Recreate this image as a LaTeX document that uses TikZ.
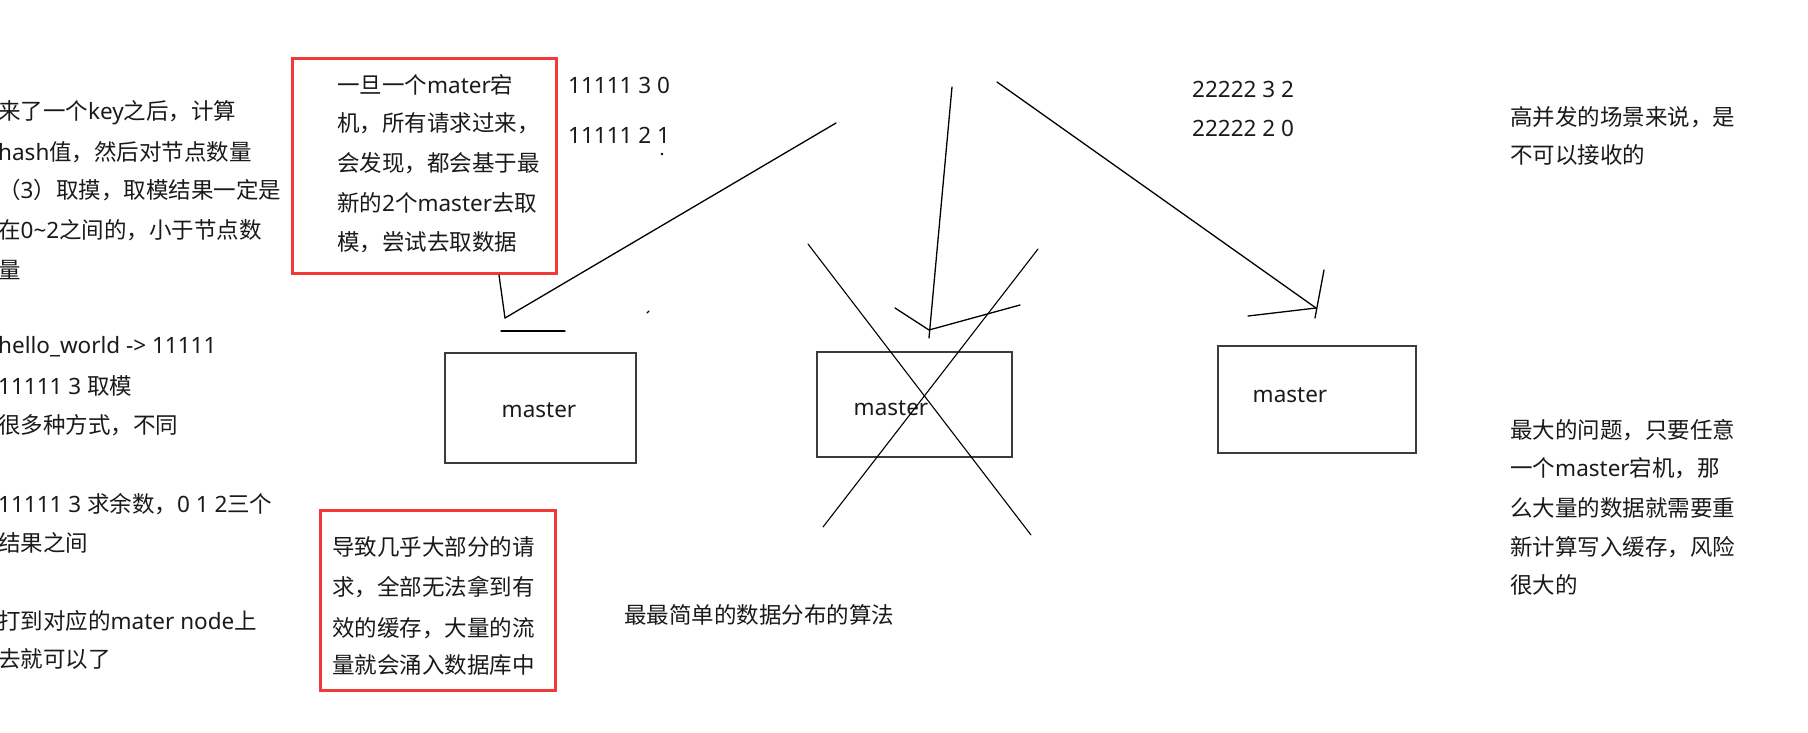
\documentclass[tikz,border=0pt]{standalone}
\usepackage{fontspec}
\setmainfont{Noto Sans}
\newfontfamily\cjkfont{Noto Sans CJK SC}
\newcount\mycnt
\chardef\mycjkcls=100
\def\setcjkrange#1#2{\mycnt=#1\relax
  \loop\XeTeXcharclass\mycnt=\mycjkcls\relax
  \ifnum\mycnt<#2\relax\advance\mycnt by 1\relax\repeat}
\setcjkrange{"4E00}{"9FFF}
\setcjkrange{"3000}{"303F}
\setcjkrange{"FF00}{"FFEF}
\XeTeXinterchartoks 0 100 = {\cjkfont}
\XeTeXinterchartoks 4095 100 = {\cjkfont}
\XeTeXinterchartoks 100 0 = {\rmfamily}
\XeTeXinterchartoks 100 4095 = {\rmfamily}
\XeTeXinterchartokenstate=1
\definecolor{txt}{HTML}{1A1A1A}
\definecolor{redbox}{HTML}{F03A3A}
\definecolor{boxline}{HTML}{3C3C3C}
\tikzset{
  lbl/.style={anchor=west, inner sep=0pt, text=txt, font=\fontsize{22.5}{30}\selectfont},
  redframe/.style={draw=redbox, line width=3pt, inner sep=0pt},
  masterbox/.style={draw=boxline, line width=2pt, inner sep=0pt},
  pen/.style={draw=black, line width=1.3pt, line cap=round},
}
\begin{document}
\begin{tikzpicture}[x=1pt, y=-1pt]
\useasboundingbox[fill=white] (0,0) rectangle (1808,732);

% left notes
\node[lbl] (n1) at (-2,113) {来了一个key之后，计算};
\node[lbl] (n2) at (-2,152) {hash值，然后对节点数量};
\node[lbl] (n3) at (-2,190) {（3）取摸，取模结果一定是};
\node[lbl] (n4) at (-2,230) {在0\textasciitilde 2之间的，小于节点数};
\node[lbl] (n5) at (-2,270) {量};
\node[lbl] (n6) at (-2,347) {hello\_world -> 11111};
\node[lbl] (n7) at (-2,386) {11111 3 取模};
\node[lbl] (n8) at (-2,425) {很多种方式，不同};
\node[lbl] (n9) at (-2,504) {11111 3 求余数，0 1 2三个};
\node[lbl] (n10) at (-2,543) {结果之间};
\node[lbl] (n11) at (-2,621) {打到对应的mater node上};
\node[lbl] (n12) at (-2,659) {去就可以了};

% red box 1
\path[redframe] (292,58) rectangle (556,273);
\node[lbl] (r1a) at (337,85) {一旦一个mater宕};
\node[lbl] (r1b) at (337,123) {机，所有请求过来，};
\node[lbl] (r1c) at (337,163) {会发现，都会基于最};
\node[lbl] (r1d) at (337,203) {新的2个master去取};
\node[lbl] (r1e) at (337,242) {模，尝试去取数据};

% numbers
\node[lbl] (k1) at (568,85) {11111 3 0};
\node[lbl] (k2) at (568,135) {11111 2 1};
\fill[black] (662,154) circle (1.3);
\node[lbl] (k3) at (1192,89) {22222 3 2};
\node[lbl] (k4) at (1192,128) {22222 2 0};

% red box 2
\path[redframe] (320,510) rectangle (555,690);
\node[lbl] (r2a) at (332,547) {导致几乎大部分的请};
\node[lbl] (r2b) at (332,587) {求，全部无法拿到有};
\node[lbl] (r2c) at (332,628) {效的缓存，大量的流};
\node[lbl] (r2d) at (332,665) {量就会涌入数据库中};

\node[lbl] (cap) at (624,615) {最最简单的数据分布的算法};

% right notes
\node[lbl] (q1) at (1510,117) {高并发的场景来说，是};
\node[lbl] (q2) at (1510,155) {不可以接收的};
\node[lbl] (q3) at (1510,430) {最大的问题，只要任意};
\node[lbl] (q4) at (1510,468) {一个master宕机，那};
\node[lbl] (q5) at (1510,508) {么大量的数据就需要重};
\node[lbl] (q6) at (1510,547) {新计算写入缓存，风险};
\node[lbl] (q7) at (1510,585) {很大的};

% master boxes
\path[masterbox] (445,353) rectangle (636,463);
\node[lbl, anchor=center] (m1) at (539,410) {master};
\path[masterbox] (817,352) rectangle (1012,457);
\node[lbl, anchor=center] (m2) at (891,408) {master};
\path[masterbox] (1218,346) rectangle (1416,453);
\node[lbl, anchor=center] (m3) at (1290,395) {master};

% hand-drawn arrows
\coordinate (a1s) at (836,123);
\coordinate (a1e) at (505,318);
\coordinate (a1h) at (499,275);
\draw[pen] (a1s) -- (a1e);
\draw[pen] (a1h) -- (a1e);
\draw[pen] (501,331) -- (565,331);
\draw[pen] (647,313) -- (649,311);

\coordinate (a2s) at (952,87);
\coordinate (a2t) at (929,330);
\draw[pen] (a2s) -- (929,338);
\draw[pen] (895,308) -- (a2t) -- (1020,305);

\coordinate (a3s) at (997,82);
\coordinate (a3t) at (1316,308);
\draw[pen] (a3s) -- (a3t);
\draw[pen] (1248,316) -- (a3t);
\draw[pen] (1324,270) -- (1315,318);

% cross over the failed master
\draw[pen, line width=1.1pt] (808,244) -- (1031,535);
\draw[pen, line width=1.1pt] (1038,249) -- (823,527);
\end{tikzpicture}
\end{document}
